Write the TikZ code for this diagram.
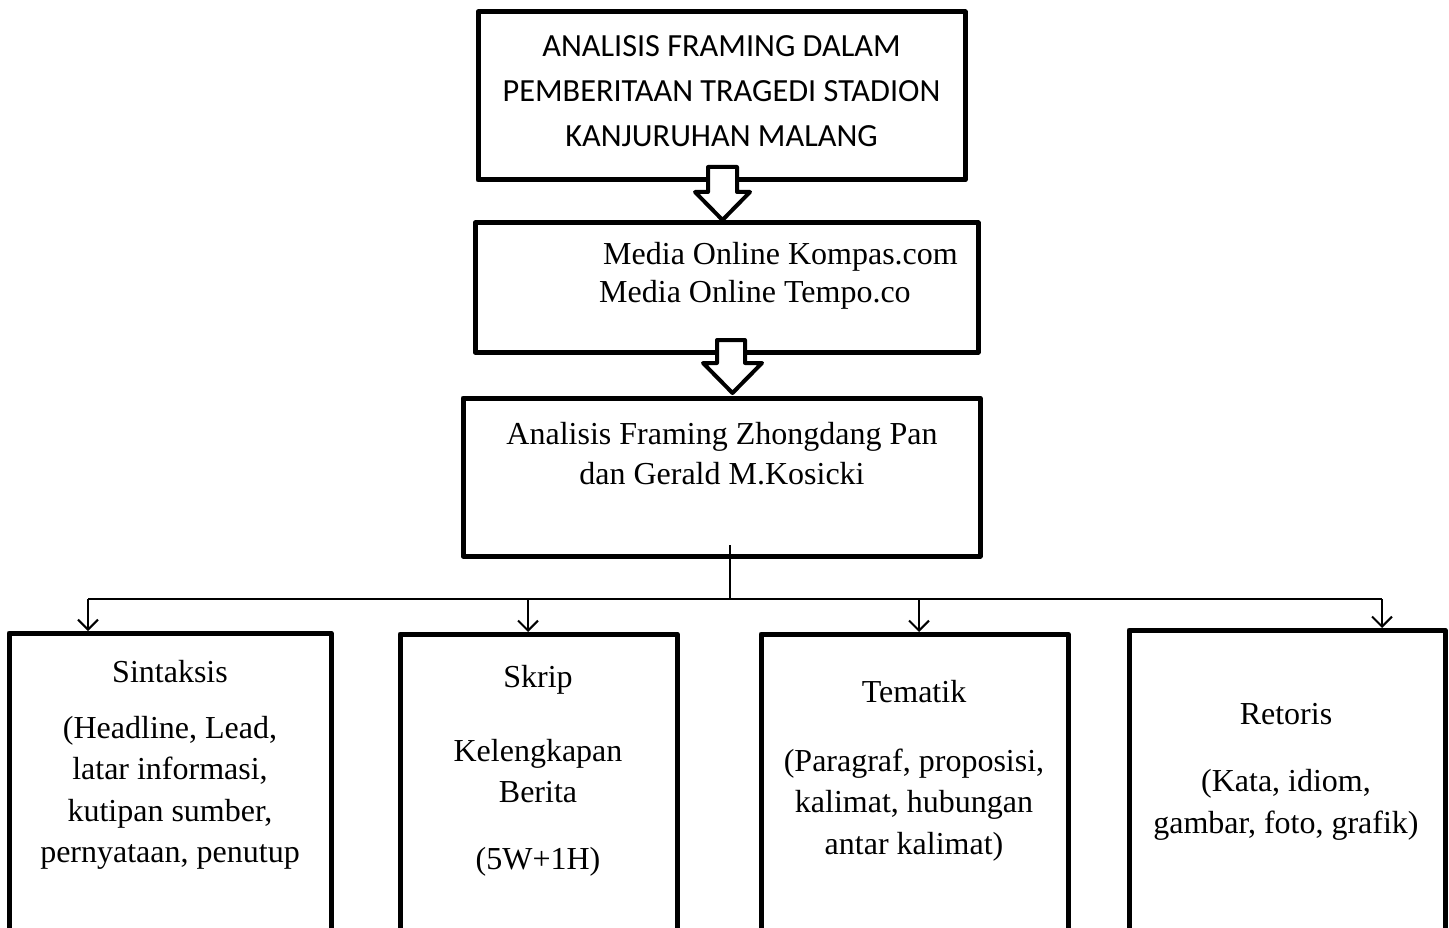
\documentclass[tikz,border=0pt]{standalone}
\usepackage{fontspec}
\setmainfont{Liberation Serif}
\newfontfamily\calibrifont{Carlito}
\usetikzlibrary{arrows.meta}
\tikzset{
  boxstyle/.style={draw=black, line width=5pt, line join=round, fill=white},
  txt/.style={inner sep=0pt, align=center, font=\fontsize{32}{41.5}\selectfont},
  blockarr/.style={draw=black, line width=4pt, line join=round, fill=white},
  conn/.style={draw=black, line width=2pt},
  tip/.style={-{Straight Barb[length=10pt,width=20pt,line width=2pt]}}
}
\newcommand\hollowarrow[7]{% stem-left stem-right top shoulder head-left head-right tip-y
  \filldraw[blockarr] (#1,#3) -- (#2,#3) -- (#2,#4) -- (#6,#4) -- ({(#5+#6)/2},#7) -- (#5,#4) -- (#1,#4) -- cycle;}
\begin{document}
\begin{tikzpicture}[x=1pt,y=-1pt]
\useasboundingbox (0,0) rectangle (1449,928);
\clip (0,0) rectangle (1449,928);
\fill[white] (0,0) rectangle (1449,928);

% top boxes
\draw[boxstyle] (478,12) rectangle (965,180);
\node[txt, font=\calibrifont\fontsize{32.3}{45}\selectfont] (t1) at (721.5,91)
  {ANALISIS FRAMING DALAM\\PEMBERITAAN TRAGEDI STADION\\KANJURUHAN MALANG};

\draw[boxstyle] (475,223) rectangle (978,352);
\node[txt, align=left, anchor=west, font=\fontsize{32}{38}\selectfont] (t2) at (599,276)
  {\hspace*{4pt}Media Online Kompas.com\\Media Online Tempo.co};

\draw[boxstyle] (463,398) rectangle (980,556);
\node[txt, font=\fontsize{32}{40}\selectfont] (t3) at (722,454)
  {Analisis Framing Zhongdang Pan\\dan Gerald M.Kosicki};

% hollow block arrows
\hollowarrow{708}{737}{167}{192}{695}{750}{220}
\hollowarrow{717}{745}{340}{363}{703}{762}{393}

% bottom boxes
\draw[boxstyle] (9,633) rectangle (331,960);
\draw[boxstyle] (400,634) rectangle (677,960);
\draw[boxstyle] (761,634) rectangle (1068,960);
\draw[boxstyle] (1129,630) rectangle (1445,960);

% connectors
\coordinate (hub) at (730,599);
\coordinate (src) at (730,545);
\coordinate (c1) at (88,599);
\coordinate (c2) at (528,599);
\coordinate (c3) at (919,599);
\coordinate (c4) at (1382,599);
\coordinate (e1) at (88,631);
\coordinate (e2) at (528,632);
\coordinate (e3) at (919,632);
\coordinate (e4) at (1382,628);
\draw[conn] (src) -- (hub);
\draw[conn] (c1) -- (c4);
\draw[conn, tip] (c1) -- (e1);
\draw[conn, tip] (c2) -- (e2);
\draw[conn, tip] (c3) -- (e3);
\draw[conn, tip] (c4) -- (e4);

% bottom texts
\node[txt] (s1) at (170,672) {Sintaksis};
\node[txt] (s2) at (170,793) {(Headline, Lead,\\latar informasi,\\kutipan sumber,\\pernyataan, penutup};

\node[txt] (k1) at (538,680) {Skrip};
\node[txt] (k2) at (538,771) {Kelengkapan\\Berita};
\node[txt] (k3) at (538,862) {(5W+1H)};

\node[txt] (m1) at (914,692) {Tematik};
\node[txt] (m2) at (914,805) {(Paragraf, proposisi,\\kalimat, hubungan\\antar kalimat)};

\node[txt] (r1) at (1286,714) {Retoris};
\node[txt] (r2) at (1286,805) {(Kata, idiom,\\gambar, foto, grafik)};
\end{tikzpicture}
\end{document}
